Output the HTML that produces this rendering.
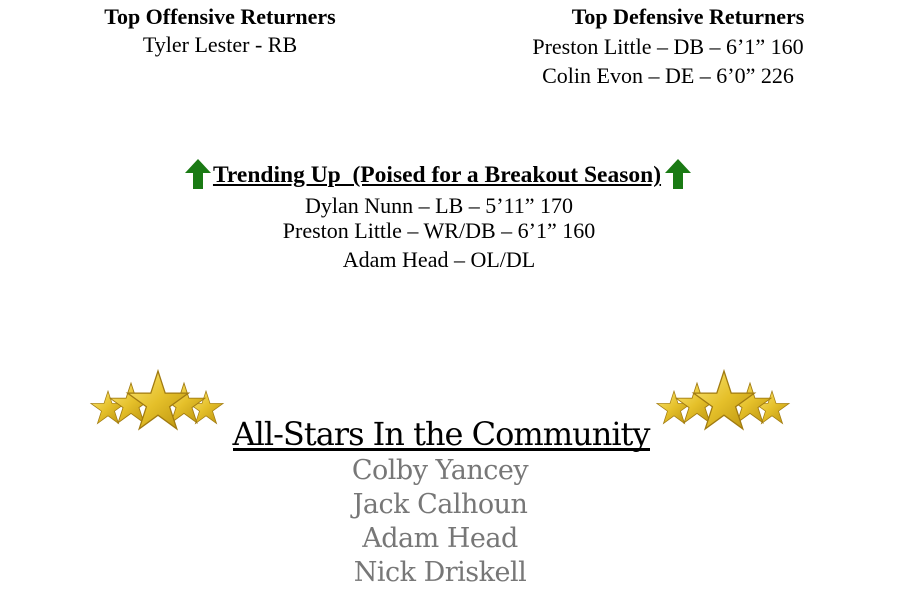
<!DOCTYPE html>
<html><head><style>
body{margin:0;width:900px;height:594px;background:#fff;position:relative;overflow:hidden;font-family:"Liberation Serif",serif;color:#000}
.t{position:absolute;white-space:nowrap;transform:translateX(-50%);font-size:22px;line-height:24px}
.b{font-weight:bold;font-size:22px}
.c{font-family:"DejaVu Serif","Liberation Serif",serif;font-weight:200;color:#777;font-size:27px;line-height:32px;letter-spacing:-0.5px}
</style></head><body>
<div class="t b" style="left:220px;top:5px">Top Offensive Returners</div>
<div class="t" style="left:220px;top:33px">Tyler Lester - RB</div>
<div class="t b" style="left:688px;top:5px">Top Defensive Returners</div>
<div class="t" style="left:668px;top:35px">Preston Little – DB – 6’1” 160</div>
<div class="t" style="left:668px;top:64px">Colin Evon – DE – 6’0” 226</div>

<svg style="position:absolute;left:184px;top:158px" width="28" height="32"><polygon points="14,1 27,15 19,15 19,31 9,31 9,15 1,15" fill="#1a7a14"/></svg>
<svg style="position:absolute;left:664px;top:158px" width="28" height="32"><polygon points="14,1 27,15 19,15 19,31 9,31 9,15 1,15" fill="#1a7a14"/></svg>
<div class="t b" style="left:437px;top:163px;text-decoration:underline;font-size:23.5px">Trending Up&nbsp; (Poised for a Breakout Season)</div>
<div class="t" style="left:439px;top:194px">Dylan Nunn – LB – 5’11” 170</div>
<div class="t" style="left:439px;top:219px">Preston Little – WR/DB – 6’1” 160</div>
<div class="t" style="left:439px;top:248px">Adam Head – OL/DL</div>

<svg style="position:absolute;left:88px;top:365px" width="145" height="75">
<defs><linearGradient id="g" x1="0" y1="0" x2="1" y2="1"><stop offset="0" stop-color="#fbe77a"/><stop offset="0.5" stop-color="#e5c02a"/><stop offset="1" stop-color="#b8900c"/></linearGradient>
<polygon id="s" points="0,-1 0.2245,-0.309 0.951,-0.309 0.363,0.118 0.588,0.809 0,0.382 -0.588,0.809 -0.363,0.118 -0.951,-0.309 -0.2245,-0.309"/></defs>
<g fill="url(#g)" stroke="#a07a10" stroke-width="0.04">
<use href="#s" transform="translate(20,44) scale(18)"/>
<use href="#s" transform="translate(118,44) scale(18)"/>
<use href="#s" transform="translate(43,40) scale(22)"/>
<use href="#s" transform="translate(96,40) scale(22)"/>
<use href="#s" transform="translate(70,38) scale(32)"/>
</g></svg>
<svg style="position:absolute;left:654px;top:365px" width="145" height="75">
<g fill="url(#g)" stroke="#a07a10" stroke-width="0.04">
<use href="#s" transform="translate(20,44) scale(18)"/>
<use href="#s" transform="translate(118,44) scale(18)"/>
<use href="#s" transform="translate(43,40) scale(22)"/>
<use href="#s" transform="translate(96,40) scale(22)"/>
<use href="#s" transform="translate(70,38) scale(32)"/>
</g></svg>

<div class="t c" style="left:441px;top:418px;color:#000;font-weight:normal;font-size:32px;letter-spacing:-1px">All-Stars In the Community</div>
<div style="position:absolute;left:233px;top:448px;width:417px;height:3px;background:#000"></div>
<div class="t c" style="left:440px;top:455px">Colby Yancey</div>
<div class="t c" style="left:440px;top:489px">Jack Calhoun</div>
<div class="t c" style="left:440px;top:523px">Adam Head</div>
<div class="t c" style="left:440px;top:557px">Nick Driskell</div>
</body></html>
